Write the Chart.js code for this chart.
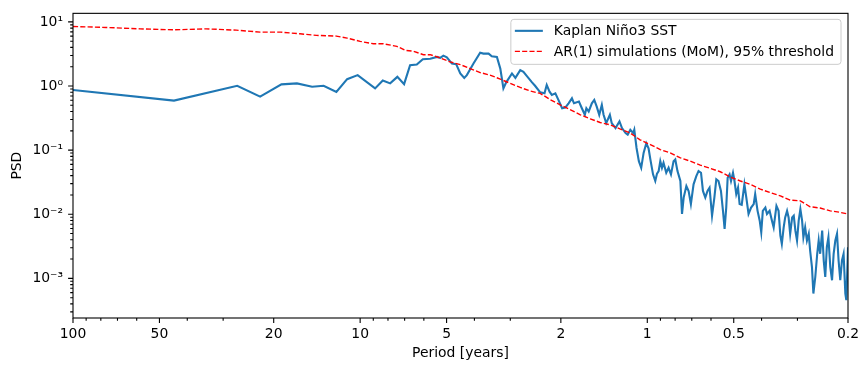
<!DOCTYPE html>
<html>
<head>
<meta charset="utf-8">
<script src="https://cdn.jsdelivr.net/npm/chart.js@4.4.1/dist/chart.umd.min.js"></script>
<style>
  html, body { margin: 0; padding: 0; background: #fff; }
  canvas { display: block; }
</style>
</head>
<body>
<canvas id="chart" width="868" height="371"></canvas>
<script>
// Kaplan Nino3 SST spectrum (period in years, PSD)
const ninoPeriod = [100, 44.5, 26.8, 22.3, 18.8, 16.6, 14.7, 13.4, 12.1, 11.1,
  10.2, 8.87, 8.34, 7.86, 7.42, 7.03, 6.70, 6.35, 6.05, 5.70,
  5.40, 5.26, 5.13, 4.99, 4.79, 4.63, 4.48, 4.34, 4.25, 4.03,
  3.82, 3.72, 3.57, 3.48, 3.34, 3.25, 3.17, 3.10, 2.96, 2.88,
  2.77, 2.70, 2.63, 2.52, 2.46, 2.36, 2.28, 2.24, 2.19, 2.15,
  2.09, 2.04, 1.98, 1.93, 1.88, 1.83, 1.80, 1.73, 1.69, 1.65,
  1.63, 1.60, 1.56, 1.53, 1.50, 1.47, 1.44, 1.42, 1.39, 1.35,
  1.33, 1.29, 1.25, 1.225, 1.19, 1.17, 1.146, 1.12, 1.11, 1.09,
  1.07, 1.05, 1.03, 1.008, 0.990, 0.976, 0.955, 0.938, 0.925, 0.913,
  0.901, 0.889, 0.878, 0.859, 0.843, 0.827, 0.810, 0.799, 0.785, 0.767,
  0.757, 0.747, 0.731, 0.718, 0.705, 0.690, 0.675, 0.663, 0.650, 0.640,
  0.628, 0.617, 0.607, 0.595, 0.584, 0.575, 0.565, 0.554, 0.545, 0.538,
  0.531, 0.525, 0.517, 0.511, 0.503, 0.497, 0.490, 0.483, 0.477, 0.469,
  0.459, 0.452, 0.444, 0.435, 0.426, 0.421, 0.413, 0.406, 0.401, 0.396,
  0.388, 0.383, 0.375, 0.368, 0.363, 0.355, 0.349, 0.344, 0.340, 0.335,
  0.331, 0.326, 0.322, 0.318, 0.313, 0.309, 0.305, 0.301, 0.297, 0.293,
  0.289, 0.286, 0.282, 0.278, 0.274, 0.271, 0.267, 0.264, 0.260, 0.256,
  0.253, 0.250, 0.246, 0.243, 0.240, 0.237, 0.234, 0.2305, 0.2273, 0.2244,
  0.2214, 0.2184, 0.2157, 0.2128, 0.2099, 0.2072, 0.2043, 0.2027, 0.2006, 0.2];
const ninoPsd = [0.867, 0.592, 1.01, 0.683, 1.06, 1.10, 0.975, 1.01, 0.807, 1.28,
  1.48, 0.918, 1.22, 1.10, 1.39, 1.07, 2.11, 2.16, 2.62, 2.67,
  2.84, 2.74, 2.98, 2.81, 2.24, 2.19, 1.57, 1.34, 1.48, 2.24,
  3.31, 3.20, 3.20, 2.91, 2.84, 1.87, 0.918, 1.14, 1.57, 1.34,
  1.77, 1.66, 1.44, 1.14, 1.01, 0.796, 0.768, 1.04, 0.816, 0.726,
  0.768, 0.607, 0.450, 0.461, 0.538, 0.643, 0.538, 0.571, 0.450, 0.356,
  0.450, 0.400, 0.538, 0.607, 0.478, 0.356, 0.508, 0.356, 0.264, 0.356,
  0.264, 0.221, 0.280, 0.221, 0.185, 0.174, 0.208, 0.185, 0.208, 0.108,
  0.0673, 0.053, 0.0905, 0.128, 0.107, 0.0723, 0.0419, 0.033, 0.0431, 0.0471,
  0.0673, 0.053, 0.0634, 0.0444, 0.053, 0.0419, 0.0673, 0.0715, 0.0471, 0.033,
  0.0101, 0.0182, 0.0276, 0.0231, 0.0144, 0.0293, 0.0394, 0.0471, 0.0444, 0.0231,
  0.0182, 0.0231, 0.026, 0.00948, 0.0182, 0.0351, 0.033, 0.0231, 0.0113, 0.0059,
  0.0127, 0.0371, 0.0419, 0.033, 0.0444, 0.033, 0.0206, 0.026, 0.0144, 0.014,
  0.0293, 0.0182, 0.0101, 0.0127, 0.0144, 0.0206, 0.0113, 0.00793, 0.00523, 0.0113,
  0.0127, 0.0101, 0.0113, 0.00793, 0.00625, 0.0135, 0.0113, 0.00465, 0.00346, 0.00625,
  0.00892, 0.0113, 0.00892, 0.00494, 0.00892, 0.00948, 0.00555, 0.00389, 0.00793, 0.012,
  0.00793, 0.00437, 0.00625, 0.00389, 0.00494, 0.00272, 0.0015, 0.00058, 0.00105, 0.00242,
  0.00389, 0.00242, 0.00555, 0.00191, 0.00105, 0.00306, 0.00437, 0.0015, 0.000934, 0.00242,
  0.00389, 0.00494, 0.00191, 0.000934, 0.00191, 0.00242, 0.00058, 0.000458, 0.00191, 0.00306];

// AR(1) surrogate 95% threshold
const arPeriod = [100, 76.7, 58.4, 44.5, 34.4, 27.0, 22.3, 18.9, 16.2, 14.2,
  12.1, 11.1, 10.0, 8.99, 8.30, 7.45, 6.97, 6.52, 6.02, 5.70,
  5.26, 4.86, 4.48, 4.14, 3.82, 3.53, 3.25, 3.00, 2.77, 2.56,
  2.36, 2.18, 2.01, 1.85, 1.71, 1.58, 1.46, 1.35, 1.24, 1.146,
  1.06, 0.976, 0.901, 0.832, 0.767, 0.708, 0.654, 0.603, 0.557, 0.514,
  0.474, 0.438, 0.404, 0.373, 0.344, 0.318, 0.293, 0.271, 0.250, 0.2305,
  0.2128, 0.2];
const arPsd = [8.49, 8.19, 7.79, 7.52, 7.79, 7.44, 6.93, 6.93, 6.52, 6.16,
  6.01, 5.59, 4.97, 4.56, 4.56, 4.16, 3.61, 3.48, 3.08, 3.08,
  2.74, 2.38, 2.16, 1.87, 1.62, 1.48, 1.28, 1.10, 0.951, 0.837,
  0.768, 0.614, 0.508, 0.425, 0.356, 0.308, 0.270, 0.249, 0.213, 0.185,
  0.145, 0.122, 0.102, 0.0905, 0.0757, 0.0673, 0.0584, 0.0519, 0.046, 0.0381,
  0.033, 0.0293, 0.0246, 0.0218, 0.0193, 0.0166, 0.0162, 0.0131, 0.0125, 0.0113,
  0.0107, 0.0101];

const seriesNames = ['Kaplan Niño3 SST', 'AR(1) simulations (MoM), 95% threshold'];

const xTicks = [100, 50, 20, 10, 5, 2, 1, 0.5, 0.2];
const xTickLabels = ['100', '50', '20', '10', '5', '2', '1', '0.5', '0.2'];
const xMinorTicks = [90, 80, 70, 60, 40, 30, 9, 8, 7, 6, 4, 3, 0.9, 0.8, 0.7, 0.6, 0.4, 0.3];
const yTicks = [10, 1, 0.1, 0.01, 0.001];
const yTickLabels = ['10¹', '10⁰', '10⁻¹', '10⁻²', '10⁻³'];
const yMinorTicks = [0.0003, 0.0004, 0.0005, 0.0006, 0.0007, 0.0008, 0.0009,
  0.002, 0.003, 0.004, 0.005, 0.006, 0.007, 0.008, 0.009,
  0.02, 0.03, 0.04, 0.05, 0.06, 0.07, 0.08, 0.09,
  0.2, 0.3, 0.4, 0.5, 0.6, 0.7, 0.8, 0.9,
  2, 3, 4, 5, 6, 7, 8, 9];

const FONT = 'DejaVu Sans';
const FS = 13.9;
const blue = '#1f77b4';
const red = '#ff0000';

// frame, tick marks and legend drawn on top of the plot
const decor = {
  id: 'decor',
  afterDatasetsDraw(chart) {
    const {ctx, chartArea: a, scales: {x, y}} = chart;
    ctx.save();
    ctx.strokeStyle = '#000';
    ctx.lineWidth = 1.1;
    ctx.beginPath();
    xTicks.forEach(v => { const p = x.getPixelForValue(v); ctx.moveTo(p, a.bottom); ctx.lineTo(p, a.bottom + 4.9); });
    xMinorTicks.forEach(v => { const p = x.getPixelForValue(v); ctx.moveTo(p, a.bottom); ctx.lineTo(p, a.bottom + 2.8); });
    yTicks.forEach(v => { const p = y.getPixelForValue(v); ctx.moveTo(a.left, p); ctx.lineTo(a.left - 4.9, p); });
    yMinorTicks.forEach(v => { const p = y.getPixelForValue(v); ctx.moveTo(a.left, p); ctx.lineTo(a.left - 2.8, p); });
    ctx.stroke();
    ctx.strokeRect(a.left, a.top, a.right - a.left, a.bottom - a.top);

    // legend
    ctx.font = FS + 'px "' + FONT + '"';
    const tw = Math.max(...seriesNames.map(s => ctx.measureText(s).width));
    const boxR = a.right - 7, boxT = a.top + 6;
    const textX = boxR - 7 - tw;
    const hR = textX - 11, hL = hR - 28;
    const boxL = hL - 4, boxB = boxT + 45;
    ctx.beginPath();
    ctx.roundRect(boxL, boxT, boxR - boxL, boxB - boxT, 3);
    ctx.fillStyle = 'rgba(255,255,255,0.8)';
    ctx.fill();
    ctx.strokeStyle = '#cccccc';
    ctx.lineWidth = 1;
    ctx.stroke();
    const rows = [boxT + 11.5, boxT + 32];
    ctx.beginPath();
    ctx.strokeStyle = blue; ctx.lineWidth = 2.1;
    ctx.moveTo(hL, rows[0]); ctx.lineTo(hR, rows[0]);
    ctx.stroke();
    ctx.beginPath();
    ctx.strokeStyle = red; ctx.lineWidth = 1.4; ctx.setLineDash([5.1, 2.2]);
    ctx.moveTo(hL, rows[1]); ctx.lineTo(hR, rows[1]);
    ctx.stroke();
    ctx.setLineDash([]);
    ctx.fillStyle = '#000';
    ctx.textBaseline = 'middle';
    ctx.textAlign = 'left';
    seriesNames.forEach((s, i) => ctx.fillText(s, textX, rows[i] + 1));
    ctx.restore();
  }
};

const ctx = document.getElementById('chart').getContext('2d');
const chart = new Chart(ctx, {
  type: 'scatter',
  data: {
    datasets: [{
      label: seriesNames[0],
      data: ninoPeriod.map((p, i) => ({x: p, y: ninoPsd[i]})),
      showLine: true,
      borderColor: blue,
      borderWidth: 2.1,
      pointRadius: 0,
      order: 1
    }, {
      label: seriesNames[1],
      data: arPeriod.map((p, i) => ({x: p, y: arPsd[i]})),
      showLine: true,
      borderColor: red,
      borderWidth: 1.4,
      borderDash: [5.1, 2.2],
      pointRadius: 0,
      order: 0
    }]
  },
  options: {
    responsive: false,
    animation: false,
    layout: { padding: { left: 0, right: 20, top: 11, bottom: 0 } },
    plugins: { legend: { display: false }, tooltip: { enabled: false } },
    scales: {
      x: {
        type: 'logarithmic', min: 0.2, max: 100, reverse: true,
        afterBuildTicks: s => { s.ticks = xTicks.map(v => ({value: v})); },
        afterFit: s => { s.height = 53; },
        ticks: {
          autoSkip: false, maxRotation: 0, padding: 3, color: '#000',
          font: { family: FONT, size: FS },
          callback: (v, i) => xTickLabels[i]
        },
        grid: { drawOnChartArea: false, tickLength: 5, color: 'rgba(0,0,0,0)' },
        border: { display: false },
        title: { display: true, text: 'Period [years]', color: '#000',
          font: { family: FONT, size: FS }, padding: { top: 0, bottom: 9.5 } }
      },
      y: {
        type: 'logarithmic', min: 0.000241, max: 13.6,
        afterBuildTicks: s => { s.ticks = yTicks.map(v => ({value: v})); },
        afterFit: s => { s.width = 73; },
        ticks: {
          autoSkip: false, padding: 5, color: '#000',
          font: { family: FONT, size: FS },
          callback: (v, i) => yTickLabels[i]
        },
        grid: { drawOnChartArea: false, tickLength: 5, color: 'rgba(0,0,0,0)' },
        border: { display: false },
        title: { display: true, text: 'PSD', color: '#000',
          font: { family: FONT, size: FS }, padding: { top: 9, bottom: 0 } }
      }
    }
  },
  plugins: [decor]
});
</script>
</body>
</html>
